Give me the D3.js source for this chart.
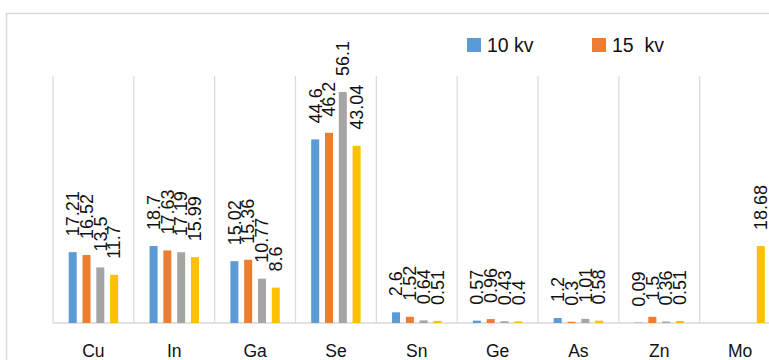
<!DOCTYPE html>
<html>
<head>
<meta charset="utf-8">
<script src="https://cdn.jsdelivr.net/npm/d3@7"></script>
<style>
  body { margin: 0; background: #fff; }
  svg { display: block; font-family: "Liberation Sans", Arial, sans-serif; }
</style>
</head>
<body>
<div class="chart"></div>
<script>
// data
const categories = ["Cu", "In", "Ga", "Se", "Sn", "Ge", "As", "Zn", "Mo"];
const seriesKeys = ["s10", "s15", "s20", "s25"];
const legendNames = ["10 kv", "15  kv"];
const s10 = [17.21, 18.7, 15.02, 44.6, 2.6, 0.57, 1.2, 0.09, null];
const s15 = [16.52, 17.63, 15.36, 46.2, 1.52, 0.96, 0.3, 1.5, null];
const s20 = [13.5, 17.19, 10.77, 56.1, 0.64, 0.43, 1.01, 0.36, null];
const s25 = [11.7, 15.99, 8.6, 43.04, 0.51, 0.4, 0.58, 0.51, 18.68];
const colors = ["#5b9bd5", "#ed7d31", "#a5a5a5", "#ffc000"];

const width = 769;
const height = 360;
const seriesVals = [s10, s15, s20, s25];

const svg = d3.select(".chart")
    .append("svg")
    .attr("width", width)
    .attr("height", height);

// chart frame (runs off the right/bottom like the source crop)
svg.append("rect")
    .attr("x", 6.5).attr("y", 13.5)
    .attr("width", 900).attr("height", 500)
    .attr("fill", "none")
    .attr("stroke", "#d9d9d9")
    .attr("stroke-width", 1.5);

const x0 = d3.scaleBand()
    .domain(categories)
    .range([53, 780.5])
    .padding(0);

const x1 = d3.scaleBand()
    .domain(seriesKeys)
    .range([-27.6, 27.6])
    .paddingInner(0.42)
    .paddingOuter(0.21);

const y = d3.scaleLinear()
    .domain([0, 60])
    .range([323, 76]);

// vertical separators between categories
const bounds = categories.map(c => x0(c)).concat([x0.range()[1]]);
svg.append("g")
    .selectAll("line")
    .data(bounds)
    .enter()
    .append("line")
    .attr("x1", d => d).attr("x2", d => d)
    .attr("y1", y(60)).attr("y2", y(0))
    .attr("stroke", "#d9d9d9")
    .attr("stroke-width", 1.2);

// baseline
svg.append("line")
    .attr("x1", x0.range()[0]).attr("x2", x0.range()[1] + 20)
    .attr("y1", y(0)).attr("y2", y(0))
    .attr("stroke", "#d9d9d9")
    .attr("stroke-width", 1.5);

const rows = [];
categories.forEach((c, i) => {
    seriesKeys.forEach((k, j) => {
        const v = seriesVals[j][i];
        if (v !== null) rows.push({ cat: c, key: k, idx: j, value: v });
    });
});

const barX = d => x0(d.cat) + x0.bandwidth() / 2 + x1(d.key);

svg.append("g")
    .selectAll("rect")
    .data(rows)
    .enter()
    .append("rect")
    .attr("x", d => barX(d))
    .attr("y", d => y(d.value))
    .attr("width", x1.bandwidth())
    .attr("height", d => y(0) - y(d.value))
    .attr("fill", d => colors[d.idx]);

// rotated value labels
svg.append("g")
    .selectAll("text")
    .data(rows)
    .enter()
    .append("text")
    .attr("transform", d => `translate(${barX(d) + x1.bandwidth() / 2},${y(d.value) - 16}) rotate(-90)`)
    .attr("dy", "0.35em")
    .attr("text-anchor", "start")
    .attr("font-size", 18)
    .attr("fill", "#111")
    .text(d => d.value);

// category labels
svg.append("g")
    .selectAll("text")
    .data(categories)
    .enter()
    .append("text")
    .attr("x", d => x0(d) + x0.bandwidth() / 2)
    .attr("y", 357)
    .attr("text-anchor", "middle")
    .attr("font-size", 17.5)
    .attr("fill", "#111")
    .text(d => d);

// legend
const legendX = [467, 592];
const legend = svg.append("g")
    .selectAll("g")
    .data(legendNames)
    .enter()
    .append("g")
    .attr("transform", (d, i) => `translate(${legendX[i]},38)`);

legend.append("rect")
    .attr("width", 14).attr("height", 14)
    .attr("fill", (d, i) => colors[i]);

legend.append("text")
    .attr("x", 20).attr("y", 13.5)
    .attr("font-size", 19.5)
    .attr("fill", "#111")
    .style("white-space", "pre")
    .text(d => d);
</script>
</body>
</html>
